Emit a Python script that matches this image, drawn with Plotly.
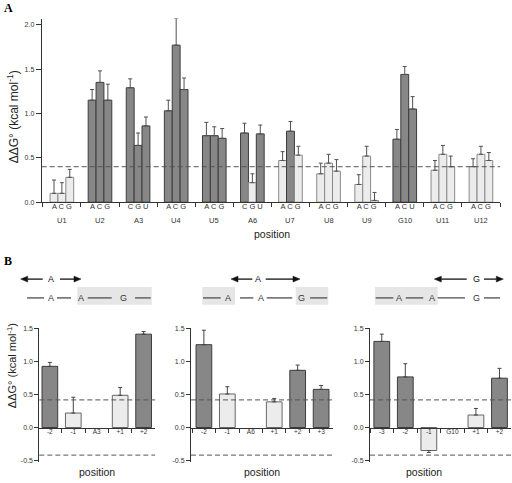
import plotly.graph_objects as go

W, H = 512, 483

# ---------------- Panel A data ----------------
positions_A = ["U1", "U2", "A3", "U4", "U5", "A6", "U7", "U8", "U9", "G10", "U11", "U12"]
subs_1 = ["A", "A", "C", "A", "A", "C", "A", "A", "A", "A", "A", "A"]
subs_2 = ["C", "C", "G", "C", "C", "G", "C", "C", "C", "C", "C", "C"]
subs_3 = ["G", "G", "U", "G", "G", "U", "G", "G", "G", "U", "G", "G"]
ddg_1 = [0.10, 1.15, 1.29, 1.03, 0.75, 0.78, 0.47, 0.32, 0.20, 0.71, 0.36, 0.40]
ddg_2 = [0.10, 1.35, 0.64, 1.77, 0.75, 0.22, 0.80, 0.44, 0.52, 1.44, 0.54, 0.54]
ddg_3 = [0.28, 1.15, 0.86, 1.27, 0.72, 0.77, 0.53, 0.35, 0.02, 1.05, 0.40, 0.47]
err_1 = [0.15, 0.12, 0.10, 0.12, 0.15, 0.11, 0.10, 0.12, 0.11, 0.11, 0.11, 0.09]
err_2 = [0.12, 0.13, 0.14, 0.30, 0.10, 0.10, 0.11, 0.10, 0.11, 0.09, 0.10, 0.09]
err_3 = [0.09, 0.18, 0.10, 0.13, 0.11, 0.10, 0.10, 0.13, 0.09, 0.14, 0.12, 0.09]
sig_1 = [0, 1, 1, 1, 1, 1, 0, 0, 0, 1, 0, 0]
sig_2 = [0, 1, 1, 1, 1, 0, 1, 0, 0, 1, 0, 0]
sig_3 = [0, 1, 1, 1, 1, 1, 0, 0, 0, 1, 0, 0]
threshold_A = 0.40
yticks_A = [0.0, 0.5, 1.0, 1.5, 2.0]

# ---------------- Panel B data ----------------
labels_B1 = ["-2", "-1", "A3", "+1", "+2"]
ddg_B1 = [0.93, 0.22, None, 0.49, 1.42]
err_B1 = [0.06, 0.24, 0.0, 0.12, 0.04]
sig_B1 = [1, 0, 0, 0, 1]

labels_B2 = ["-2", "-1", "A6", "+1", "+2", "+3"]
ddg_B2 = [1.26, 0.51, None, 0.39, 0.87, 0.58]
err_B2 = [0.22, 0.11, 0.0, 0.05, 0.08, 0.06]
sig_B2 = [1, 0, 0, 0, 1, 1]

labels_B3 = ["-3", "-2", "-1", "G10", "+1", "+2"]
ddg_B3 = [1.31, 0.77, -0.35, None, 0.19, 0.75]
err_B3 = [0.11, 0.20, 0.03, 0.0, 0.10, 0.15]
sig_B3 = [1, 1, 0, 0, 0, 1]

threshold_B = 0.42
yticks_B = [-0.5, 0.0, 0.5, 1.0, 1.5]

# ---------------- styling ----------------
FONT = "Liberation Sans, Arial, Helvetica, sans-serif"
DARK_FILL, DARK_LINE = "#878787", "#3c3c3c"
LIGHT_FILL, LIGHT_LINE = "#ececec", "#8a8a8a"
LIGHT_LINE_B = "#666666"
AX = "#333333"


def px(x):
    return x / W


def py(y):
    return 1 - y / H


def fills(sig):
    return [DARK_FILL if s else LIGHT_FILL for s in sig]


def lines(sig, light=LIGHT_LINE):
    return [DARK_LINE if s else light for s in sig]


def one_sided(vals, errs):
    up = [e if (v is not None and v >= 0) else 0 for v, e in zip(vals, errs)]
    dn = [e if (v is not None and v < 0) else 0 for v, e in zip(vals, errs)]
    return up, dn


fig = go.Figure()

# Panel A bars
for vals, errs, sig in [(ddg_1, err_1, sig_1), (ddg_2, err_2, sig_2), (ddg_3, err_3, sig_3)]:
    up, dn = one_sided(vals, errs)
    fig.add_trace(go.Bar(
        x=positions_A, y=vals, xaxis="x", yaxis="y",
        marker=dict(color=fills(sig), line=dict(color=lines(sig), width=1)),
        error_y=dict(type="data", array=up, arrayminus=dn, symmetric=False,
                     color="#505050", thickness=1, width=2),
        showlegend=False, hoverinfo="x+y",
    ))

# Panel B bars
panels_B = [
    (labels_B1, ddg_B1, err_B1, sig_B1, "x2", "y2"),
    (labels_B2, ddg_B2, err_B2, sig_B2, "x3", "y3"),
    (labels_B3, ddg_B3, err_B3, sig_B3, "x4", "y4"),
]
for labs, vals, errs, sig, xa, ya in panels_B:
    up, dn = one_sided(vals, errs)
    fig.add_trace(go.Bar(
        x=labs, y=vals, xaxis=xa, yaxis=ya, width=0.67,
        marker=dict(color=fills(sig), line=dict(color=lines(sig, LIGHT_LINE_B), width=1)),
        error_y=dict(type="data", array=up, arrayminus=dn, symmetric=False,
                     color="#444444", thickness=1, width=2),
        showlegend=False, hoverinfo="x+y",
    ))

# ---------------- axes ----------------
tickfont = dict(family=FONT, size=7, color=AX)

yrange_A = [0, 2.07]
ydom_A = [py(202.3), py(16.7)]
xaxis_A = dict(
    domain=[px(41.7), px(500)], range=[-0.53, 11.5], type="category", anchor="y",
    showline=True, linecolor=AX, linewidth=1, ticks="outside", tickson="boundaries",
    ticklen=4, tickcolor=AX, tickwidth=1,
    tickmode="array", tickvals=positions_A,
    ticktext=[" ".join(t) for t in zip(subs_1, subs_2, subs_3)],
    tickfont=dict(family=FONT, size=7.5, color=AX), showgrid=False, zeroline=False,
    ticklabelstandoff=-3,
)
yaxis_A = dict(
    domain=ydom_A, range=yrange_A, anchor="x", showline=True, linecolor=AX, linewidth=1,
    ticks="outside", ticklen=5, tickcolor=AX, tickvals=yticks_A,
    ticktext=["%.1f" % v for v in yticks_A], tickfont=tickfont,
    showgrid=False, zeroline=False,
)

yrange_B = [-0.52, 1.52]
ydom_B = [py(464.5), py(329)]
zero_B = ydom_B[0] + (0 - yrange_B[0]) / (yrange_B[1] - yrange_B[0]) * (ydom_B[1] - ydom_B[0])

xdoms_B = [[px(39.3), px(155.1)], [px(191), px(332.6)], [px(370), px(511)]]
xranges_B = [[-0.45, 4.49], [-0.55, 5.49], [-0.5, 5.49]]

layout_axes = dict(xaxis=xaxis_A, yaxis=yaxis_A)
for k, ((labs, vals, errs, sig, xa, ya), dom, rng) in enumerate(zip(panels_B, xdoms_B, xranges_B)):
    n = xa[1:]
    layout_axes["xaxis" + n] = dict(
        domain=dom, range=rng, type="category", categoryorder="array", categoryarray=labs,
        anchor="free", position=zero_B,
        showline=True, linecolor=AX, linewidth=1, ticks="outside", tickson="boundaries",
        ticklen=4, tickcolor=AX, tickfont=dict(family=FONT, size=6.5, color=AX),
        showgrid=False, zeroline=False, ticklabelstandoff=-2,
    )
    layout_axes["yaxis" + n] = dict(
        domain=ydom_B, range=yrange_B, anchor=xa, showline=True, linecolor=AX, linewidth=1,
        ticks="outside", ticklen=4, tickcolor=AX, tickvals=yticks_B,
        ticktext=["%.1f" % v for v in yticks_B], tickfont=tickfont,
        showgrid=False, zeroline=False,
    )
    # companion axis: upward half of the category-boundary ticks
    m = str(5 + k)
    layout_axes["xaxis" + m] = dict(
        domain=dom, range=rng, type="linear", overlaying=xa, anchor="free", position=zero_B,
        side="bottom", showline=False, ticks="inside", ticklen=4, tickcolor=AX,
        tickmode="array", tickvals=[i + 0.5 for i in range(len(labs) - 1)],
        showticklabels=False, showgrid=False, zeroline=False,
    )

# ---------------- shapes ----------------
shapes = []
dash = "5px,3px"
shapes.append(dict(type="line", xref="x domain", yref="y", x0=0, x1=1,
                   y0=threshold_A, y1=threshold_A, line=dict(color="#555", width=1, dash=dash)))
for n in ["2", "3", "4"]:
    for t in (threshold_B, -threshold_B):
        shapes.append(dict(type="line", xref="x%s domain" % n, yref="y" + n, x0=0, x1=1,
                           y0=t, y1=t, line=dict(color="#555", width=1, dash=dash)))

# diagram shading boxes
for x0, x1 in [(77.3, 151.7), (202.3, 235), (295.7, 328.3), (375, 437.7)]:
    shapes.append(dict(type="rect", xref="paper", yref="paper", x0=px(x0), x1=px(x1),
                       y0=py(306), y1=py(288), fillcolor="#e6e6e6", line=dict(width=0),
                       layer="below"))
# diagram strand segments
seg = [(27, 44), (57, 71), (87.7, 111.7), (135, 150.7),
       (203, 220.7), (240, 253.3), (266.7, 292.3), (310, 327.3),
       (375.7, 393.3), (405.7, 423.3), (484, 500)]
for x0, x1 in seg:
    shapes.append(dict(type="line", xref="paper", yref="paper", x0=px(x0), x1=px(x1),
                       y0=py(299), y1=py(299), line=dict(color="#5a5a5a", width=1.4)))
shapes.append(dict(type="line", xref="paper", yref="paper", x0=px(437.7), x1=px(465),
                   y0=py(299), y1=py(299), line=dict(color="#222", width=1)))

# arrows (head, tail) drawn as line + filled triangle head
AY = 280
for head, tail in [(20.7, 42.7), (81, 60), (231, 252.3), (300, 265.7), (434.3, 466.7), (503.3, 484)]:
    d = 1 if head > tail else -1
    base = head - d * 7
    shapes.append(dict(type="line", xref="paper", yref="paper", x0=px(tail), x1=px(base),
                       y0=py(AY), y1=py(AY), line=dict(color="#111", width=1.3)))
    path = "M %.5f,%.5f L %.5f,%.5f L %.5f,%.5f Z" % (
        px(head), py(AY), px(base), py(AY - 3), px(base), py(AY + 3))
    shapes.append(dict(type="path", xref="paper", yref="paper", path=path,
                       fillcolor="#111", line=dict(color="#111", width=0.5)))

# ---------------- annotations ----------------
ann = []
for g in positions_A:
    ann.append(dict(x=g, xref="x", y=py(220.7), yref="paper", text=g, showarrow=False,
                    font=dict(family=FONT, size=7.5, color=AX), xanchor="center", yanchor="middle"))
ann.append(dict(x=px(272), y=py(234.3), xref="paper", yref="paper", text="position",
                showarrow=False, font=dict(family=FONT, size=10.5, color="#222"),
                xanchor="center", yanchor="middle"))
for xc in (97, 262, 424):
    ann.append(dict(x=px(xc), y=py(475), xref="paper", yref="paper", text="position",
                    showarrow=False, font=dict(family=FONT, size=10.5, color="#222"),
                    xanchor="center", yanchor="middle"))
ytitle = "ΔΔG° (kcal mol<sup>-1</sup>)"
ann.append(dict(x=px(12.5), y=py(116), xref="paper", yref="paper", text=ytitle, textangle=-90,
                showarrow=False, font=dict(family=FONT, size=12, color="#222"),
                xanchor="center", yanchor="middle"))
ann.append(dict(x=px(11.5), y=py(367.5), xref="paper", yref="paper", text=ytitle, textangle=-90,
                showarrow=False, font=dict(family=FONT, size=11, color="#222"),
                xanchor="center", yanchor="middle"))
ann.append(dict(x=px(2), y=py(-3), xref="paper", yref="paper", text="<b>A</b>", showarrow=False,
                font=dict(family="Liberation Serif, Times New Roman, serif", size=12, color="#000"),
                xanchor="left", yanchor="top"))
ann.append(dict(x=px(2), y=py(253), xref="paper", yref="paper", text="<b>B</b>", showarrow=False,
                font=dict(family="Liberation Serif, Times New Roman, serif", size=12, color="#000"),
                xanchor="left", yanchor="top"))

dfont = dict(family=FONT, size=9, color="#333")
for x, t in [(51, "A"), (258.3, "A"), (476.7, "G")]:
    ann.append(dict(x=px(x), y=py(AY), xref="paper", yref="paper", text=t, showarrow=False,
                    font=dict(family=FONT, size=9, color="#111"), xanchor="center", yanchor="middle"))
for x, t in [(50.7, "A"), (80.7, "A"), (123.3, "G"), (227.7, "A"), (260.7, "A"), (301.7, "G"),
             (399, "A"), (431.7, "A"), (476.7, "G")]:
    ann.append(dict(x=px(x), y=py(299), xref="paper", yref="paper", text=t, showarrow=False,
                    font=dfont, xanchor="center", yanchor="middle"))

fig.update_layout(
    width=W, height=H, margin=dict(l=0, r=0, t=0, b=0),
    paper_bgcolor="white", plot_bgcolor="white",
    barmode="group", bargap=0.38, bargroupgap=0,
    showlegend=False, shapes=shapes, annotations=ann,
    font=dict(family=FONT, color=AX),
    **layout_axes,
)

fig.write_html("out.html", config={"displayModeBar": False},
               post_script="document.body.style.margin='0';document.body.style.overflow='hidden';")
